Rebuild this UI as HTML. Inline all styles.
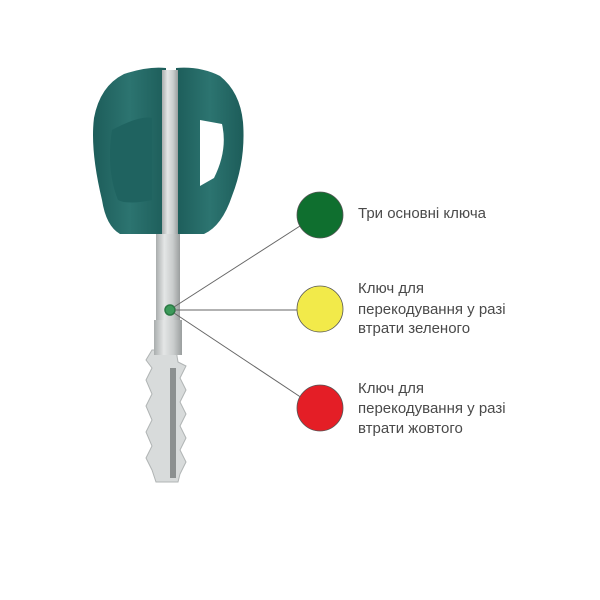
<!DOCTYPE html>
<html><head><meta charset="utf-8"><style>
html,body{margin:0;padding:0;background:#fff;}
svg{display:block;}
text{font-family:"Liberation Sans",sans-serif;font-size:15px;fill:#4a4a4a;}
</style></head><body>
<svg width="600" height="600" viewBox="0 0 600 600" xmlns="http://www.w3.org/2000/svg">
<defs>
<linearGradient id="sh" x1="0" x2="1">
<stop offset="0" stop-color="#a9adad"/><stop offset="0.35" stop-color="#e4e6e6"/><stop offset="0.7" stop-color="#c9cccc"/><stop offset="1" stop-color="#9a9e9e"/>
</linearGradient>
<linearGradient id="hd" x1="0" x2="1">
<stop offset="0" stop-color="#1d5d5a"/><stop offset="0.5" stop-color="#2c7470"/><stop offset="1" stop-color="#1d5d5a"/>
</linearGradient>
</defs>
<!-- blade -->
<path d="M152 350 L176 350 L178 362 L186 366 L180 378 L186 390 L180 402 L186 414 L180 426 L186 438 L180 450 L186 462 L180 474 L178 482 L156 482 L152 470 L146 458 L152 446 L146 432 L152 420 L146 406 L152 394 L146 380 L152 368 L146 360 Z" fill="#d8dbdb" stroke="#b0b4b4"/>
<rect x="170" y="368" width="6" height="110" fill="#8c9090"/>
<!-- shaft -->
<rect x="156" y="225" width="24" height="130" fill="url(#sh)"/>
<rect x="154" y="320" width="28" height="35" fill="url(#sh)"/>
<!-- head -->
<path d="M124 74 Q148 66 166 68 L166 234 L120 234 Q106 226 102 200 Q90 150 94 118 Q100 86 124 74 Z" fill="url(#hd)"/>
<path d="M176 68 Q200 66 220 76 Q240 92 243 122 Q246 160 232 196 Q222 226 204 234 L176 234 Z" fill="url(#hd)"/>
<path d="M200 120 L222 124 Q228 150 214 178 L200 186 Z" fill="#fff"/>
<path d="M112 130 Q140 115 152 118 L152 200 Q128 205 118 200 Q106 170 112 130 Z" fill="#1f6360"/>
<rect x="162" y="70" width="16" height="164" fill="url(#sh)"/>
<!-- dot -->
<circle cx="170" cy="310" r="5" fill="#3c9a5a" stroke="#2a7a44" stroke-width="1.5"/>
<!-- lines -->
<g stroke="#666" stroke-width="1">
<line x1="174" y1="307" x2="300" y2="226"/>
<line x1="175" y1="310" x2="297" y2="310"/>
<line x1="174" y1="313" x2="302" y2="398"/>
</g>
<!-- circles -->
<circle cx="320" cy="215" r="23" fill="#0f6f2f" stroke="#555" stroke-width="0.8"/>
<circle cx="320" cy="309" r="23" fill="#f2ea4a" stroke="#555" stroke-width="0.8"/>
<circle cx="320" cy="408" r="23" fill="#e41e26" stroke="#555" stroke-width="0.8"/>
<text x="358" y="218">Три основні ключа</text>
<text x="358" y="293">Ключ для</text>
<text x="358" y="314">перекодування у разі</text>
<text x="358" y="333">втрати зеленого</text>
<text x="358" y="393">Ключ для</text>
<text x="358" y="413">перекодування у разі</text>
<text x="358" y="433">втрати жовтого</text>
</svg>
</body></html>
